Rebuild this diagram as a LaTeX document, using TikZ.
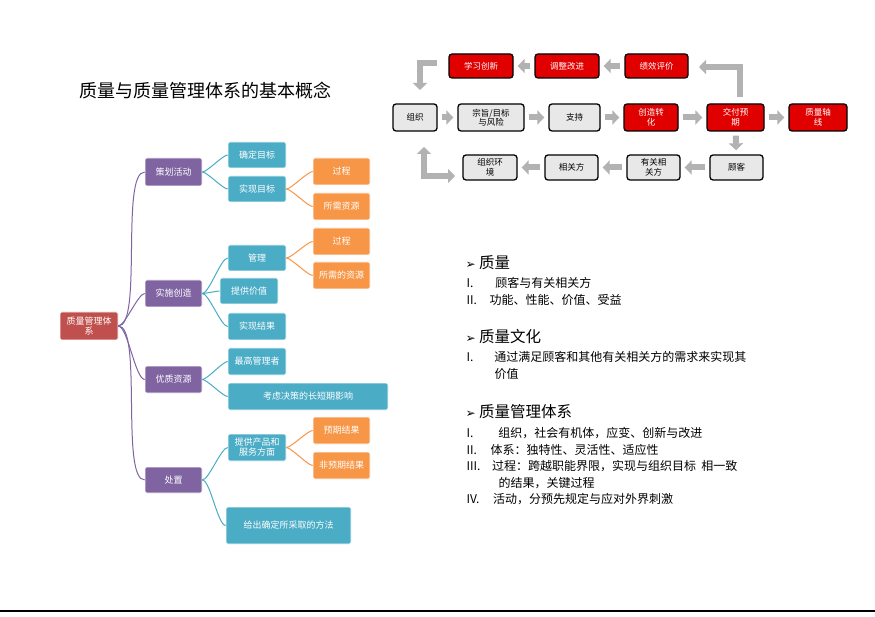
\documentclass[tikz,border=0pt]{standalone}
\usepackage{fontspec}
\setmainfont{Liberation Sans}
\newfontfamily\cjk{Noto Sans CJK SC}
\newfontfamily\dv{DejaVu Sans}
\usetikzlibrary{arrows.meta,calc}
\definecolor{rootc}{HTML}{C0504D}
\definecolor{purp}{HTML}{8064A2}
\definecolor{blu}{HTML}{4BACC6}
\definecolor{ora}{HTML}{F79646}
\definecolor{redb}{HTML}{E00000}
\begin{document}
\begin{tikzpicture}[x=1pt,y=-1pt,
 box/.style={draw=white,line width=0.6pt,rounded corners=2pt,text=white,font=\cjk\fontsize{9}{10}\selectfont,align=center,inner sep=1pt},
 rootn/.style={box,fill=rootc},
 pn/.style={box,fill=purp},
 bn/.style={box,fill=blu},
 on/.style={box,fill=ora},
 lk/.style={line width=1pt},
 fb/.style={draw=black,line width=1.3pt,rounded corners=3pt,font=\cjk\fontsize{8.5}{9.5}\selectfont,align=center,inner sep=1pt},
 gb/.style={fb,fill=gray!18,text=black},
 rb/.style={fb,fill=redb,text=white},
 ca/.style={draw=gray!60,line width=6pt,-{Triangle[width=14pt,length=7pt]}},
 hd/.style={font=\cjk\fontsize{15.5}{17}\selectfont,anchor=west},
 it/.style={font=\cjk\fontsize{12}{16.5}\selectfont,anchor=north west,align=left}
]
\useasboundingbox (0,0) rectangle (875,617);
\fill[white] (0,0) rectangle (875,617);
\draw[line width=1.2pt] (0,611) -- (875,611);
\node[font=\cjk\fontsize{18}{20}\selectfont,anchor=west] (title) at (76,91) {质量与质量管理体系的基本概念};
% mind map
\newcommand{\bx}[5]{\node[#1,minimum width=#4-#2,minimum height=#5-#3] at ({(#2+#4)/2},{(#3+#5)/2})}
\bx{rootn}{60}{312}{118}{340} (r) {质量管理体\\系};
\bx{pn}{145}{158}{202}{186} (p1) {策划活动};
\bx{pn}{145}{280}{202}{307} (p2) {实施创造};
\bx{pn}{145}{366}{202}{393} (p3) {优质资源};
\bx{pn}{145}{467}{202}{493} (p4) {处置};
\bx{bn}{228}{142}{286}{168} (b1) {确定目标};
\bx{bn}{228}{176}{286}{202} (b2) {实现目标};
\bx{bn}{228}{245}{286}{271} (b3) {管理};
\bx{bn}{220}{278}{278}{304} (b4) {提供价值};
\bx{bn}{228}{313}{286}{340} (b5) {实现结果};
\bx{bn}{228}{348}{286}{375} (b6) {最高管理者};
\bx{bn}{228}{383}{388}{410} (b7) {考虑决策的长短期影响};
\bx{bn}{228}{434}{286}{461} (b8) {提供产品和\\服务方面};
\bx{bn}{226}{507}{351}{544} (b9) {给出确定所采取的方法};
\bx{on}{313}{158}{370}{185} (o1) {过程};
\bx{on}{313}{193}{370}{220} (o2) {所需资源};
\bx{on}{313}{228}{370}{255} (o3) {过程};
\bx{on}{313}{262}{370}{289} (o4) {所需的资源};
\bx{on}{313}{417}{370}{444} (o5) {预期结果};
\bx{on}{313}{452}{370}{479} (o6) {非预期结果};
\foreach \c in {p1,p2,p3,p4} \draw[lk,draw=purp] (r.east) to[out=0,in=180,looseness=0.4] (\c.west);
\foreach \a/\c in {p1/b1,p1/b2,p2/b3,p2/b4,p2/b5,p3/b6,p3/b7,p4/b8,p4/b9} \draw[lk,draw=blu] (\a.east) to[out=0,in=180,looseness=0.4] (\c.west);
\foreach \a/\c in {b2/o1,b2/o2,b3/o3,b3/o4,b8/o5,b8/o6} \draw[lk,draw=ora] (\a.east) to[out=0,in=180,looseness=0.4] (\c.west);
% flow
\bx{rb}{449}{54}{513}{78} (f1) {学习创新};
\bx{rb}{535}{54}{599}{78} (f2) {调整改进};
\bx{rb}{625}{54}{688}{78} (f3) {绩效评价};
\bx{gb}{393}{104}{437}{131} (g1) {组织};
\bx{gb}{458}{104}{524}{131} (g2) {宗旨/目标\\与风险};
\bx{gb}{549}{104}{600}{131} (g3) {支持};
\bx{rb}{624}{104}{678}{131} (g4) {创造转\\化};
\bx{rb}{707}{104}{764}{131} (g5) {交付预\\期};
\bx{rb}{789}{104}{847}{131} (g6) {质量轴\\线};
\bx{gb}{463}{155}{517}{180} (h1) {组织环\\境};
\bx{gb}{545}{155}{598}{180} (h2) {相关方};
\bx{gb}{627}{155}{680}{180} (h3) {有关相\\关方};
\bx{gb}{710}{155}{763}{180} (h4) {顾客};
\foreach \a/\b in {g1/g2,g2/g3,g3/g4,g4/g5,g5/g6,f3/f2,f2/f1,h4/h3,h3/h2,h2/h1,g5/h4} \draw[ca,shorten <=4pt,shorten >=4pt] (\a) -- (\b);
\draw[ca] (437,63) -- (420,63) -- (420,90);
\draw[ca] (740,97) -- (740,67) -- (699,67);
\draw[draw=gray!60,line width=6pt] (424,176) -- (440,176);
\draw[ca] (437,176) -- (455,176);
\draw[ca] (424,179) -- (424,147);
% text
\node[hd] (t1) at (462,263) {{\dv\fontsize{12}{14}\selectfont ➢} 质量};
\node[it] (t1a) at (463,274) {I.\hspace{22pt}顾客与有关相关方\\II.\hspace{10pt} 功能、性能、价值、受益};
\node[hd] (t2) at (462,337) {{\dv\fontsize{12}{14}\selectfont ➢} 质量文化};
\node[it] (t2a) at (463,348) {I.\hspace{21pt}通过满足顾客和其他有关相关方的需求来实现其\\\hspace{28pt}价值};
\node[hd] (t3) at (462,412) {{\dv\fontsize{12}{14}\selectfont ➢} 质量管理体系};
\node[it] (t3a) at (463,424) {I.\hspace{25pt}组织，社会有机体，应变、创新与改进\\II.\hspace{11pt} 体系：独特性、灵活性、适应性\\III.\hspace{9pt} 过程：跨越职能界限，实现与组织目标\ \ 相一致\\\hspace{32pt}的结果，关键过程\\IV.\hspace{11pt} 活动，分预先规定与应对外界刺激};
\end{tikzpicture}
\end{document}
